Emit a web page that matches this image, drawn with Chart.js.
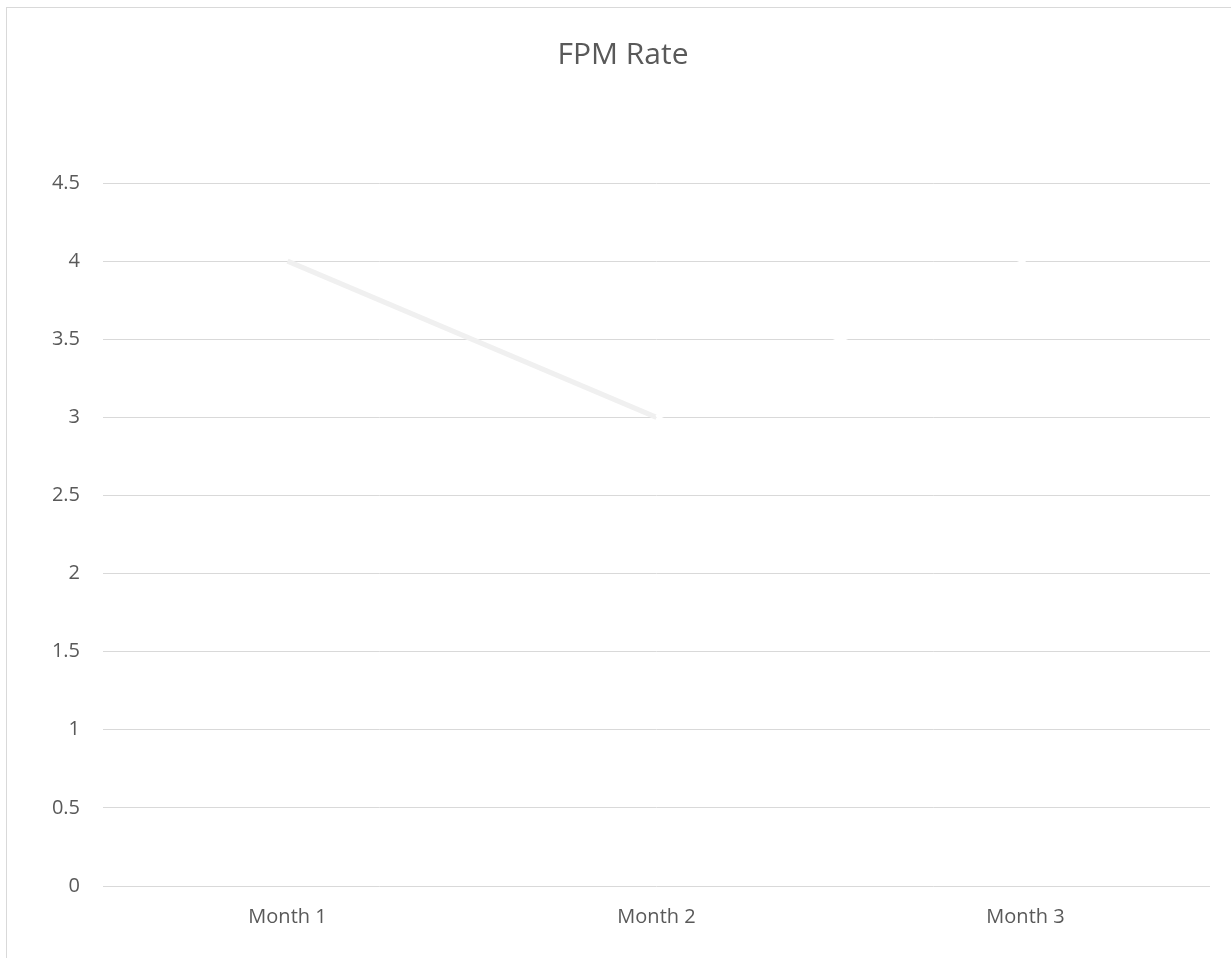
<!DOCTYPE html>
<html>
<head>
<meta charset="utf-8">
<script src="https://cdn.jsdelivr.net/npm/chart.js@4/dist/chart.umd.min.js"></script>
<style>
  html, body { margin: 0; padding: 0; background: #ffffff; overflow: hidden; }
  #frame { position: absolute; left: 6px; top: 7px; width: 1400px; height: 1100px; border: 1px solid #d9d9d9; box-sizing: border-box; }
  #c { position: absolute; left: 0; top: 0; }
</style>
</head>
<body>
<div id="frame"></div>
<canvas id="c" width="1231" height="958"></canvas>
<script>
const chartTitle = "FPM Rate";
const categories = ["Month 1", "Month 2", "Month 3"];
const fpmRate = [4, 3, 4];
const yMin = 0, yMax = 4.5, yStep = 0.5;

const textColor = "#595959";
const gridColor = "#d9d9d9";
const fontFamily = "'Open Sans', 'Liberation Sans', sans-serif";

new Chart(document.getElementById("c"), {
  type: "line",
  data: {
    labels: categories,
    datasets: [{
      label: chartTitle,
      data: fpmRate,
      borderWidth: 5,
      borderColor: "#f2f2f2",
      pointRadius: 0,
      pointHoverRadius: 0,
      tension: 0,
      fill: false,
      segment: {
        borderColor: ctx => ctx.p0DataIndex === 0 ? "#f0f0f0" : "#ffffff"
      }
    }]
  },
  options: {
    responsive: false,
    animation: false,
    layout: { padding: { left: 36, right: 21, top: 0, bottom: 0 } },
    plugins: {
      legend: { display: false },
      tooltip: { enabled: false },
      title: {
        display: true,
        text: chartTitle,
        color: textColor,
        font: { family: fontFamily, size: 30, weight: "normal", lineHeight: 1.2 },
        padding: { top: 37, bottom: 110 }
      }
    },
    scales: {
      x: {
        offset: true,
        grid: { display: false, drawTicks: false },
        border: { display: false },
        ticks: { color: textColor, font: { family: fontFamily, size: 20 }, padding: 19, maxRotation: 0 },
        afterFit: s => { s.height = 72; }
      },
      y: {
        min: yMin,
        max: yMax,
        grid: { color: gridColor, lineWidth: 1, drawTicks: false },
        border: { display: false },
        ticks: {
          stepSize: yStep,
          color: textColor,
          font: { family: fontFamily, size: 20 },
          padding: 23,
          callback: v => String(Math.round(v * 10) / 10)
        },
        afterFit: s => { s.width = 67; }
      }
    }
  }
});
</script>
</body>
</html>
